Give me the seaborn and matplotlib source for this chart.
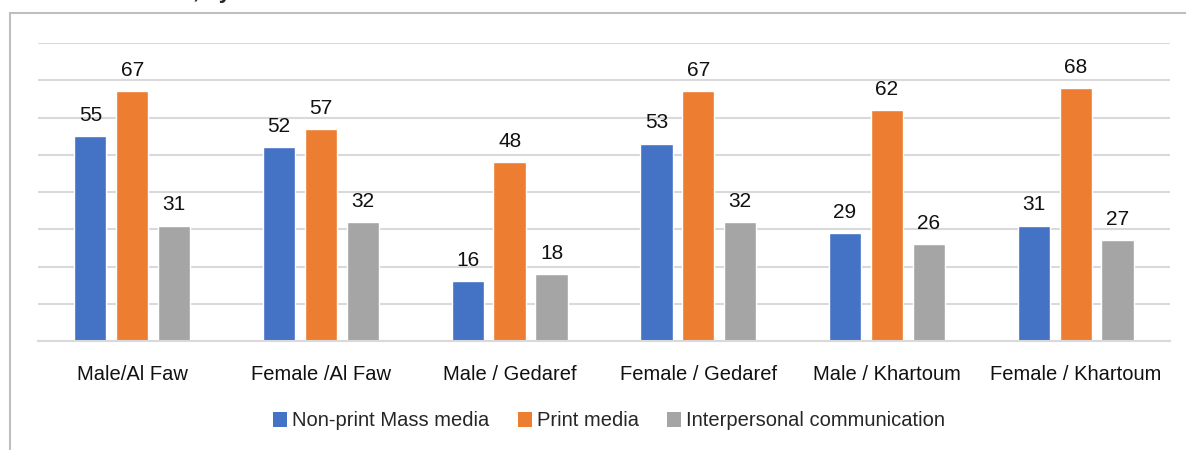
import matplotlib
matplotlib.use("Agg")
import matplotlib.pyplot as plt
import seaborn as sns
import pandas as pd
from matplotlib.lines import Line2D
from matplotlib.patches import Patch

groups = ["Male/Al Faw", "Female /Al Faw", "Male / Gedaref",
          "Female / Gedaref", "Male / Khartoum", "Female / Khartoum"]
series = ["Non-print Mass media", "Print media", "Interpersonal communication"]
non_print = [55, 52, 16, 53, 29, 31]
print_media = [67, 57, 48, 67, 62, 68]
interpersonal = [31, 32, 18, 32, 26, 27]
colors = ["#4472C4", "#ED7D31", "#A5A5A5"]

df = pd.DataFrame({
    "group": groups * 3,
    "source": [series[0]] * 6 + [series[1]] * 6 + [series[2]] * 6,
    "value": non_print + print_media + interpersonal,
})

sns.set_theme(style="white")
plt.rcParams['font.family'] = ['Liberation Sans Narrow', 'Liberation Sans', 'DejaVu Sans']

fig = plt.figure(figsize=(11.86, 4.5), dpi=100)
ax = fig.add_axes([0.032, 0.2422, 0.9545, 0.6622])

sns.barplot(data=df, x="group", y="value", hue="source", order=groups,
            hue_order=series, palette=colors, width=0.667, gap=0.23,
            saturation=1, legend=False, ax=ax)

for c in ax.containers:
    ax.bar_label(c, fmt="%d", padding=8, fontsize=15, color="#111111")

ax.set_ylim(0, 80)
ax.set_yticks(range(0, 81, 10))
ax.yaxis.grid(True, color="#D9D9D9", linewidth=1.5)
ax.set_axisbelow(True)
ax.tick_params(axis="y", left=False, labelleft=False)
ax.tick_params(axis="x", bottom=False, labelsize=14.5, pad=11, colors="#111111")
ax.set_xlabel("")
ax.set_ylabel("")
for s in ["top", "right", "left"]:
    ax.spines[s].set_visible(False)
ax.spines["bottom"].set_color("#D9D9D9")
ax.spines["bottom"].set_linewidth(1.5)

handles = [Patch(facecolor=col, edgecolor="none") for col in colors]
fig.legend(handles, series, loc="center", bbox_to_anchor=(609 / 1186, 1 - 421 / 450),
           ncol=3, frameon=False, fontsize=14.5, handlelength=0.7, handleheight=0.7,
           handletextpad=0.25, columnspacing=1.4)

# outer chart frame (left and top edges visible)
fig.add_artist(Line2D([10 / 1186, 10 / 1186], [0, 1 - 13 / 450], transform=fig.transFigure,
                      color="#BFBFBF", linewidth=1.5))
fig.add_artist(Line2D([10 / 1186, 1], [1 - 13 / 450, 1 - 13 / 450], transform=fig.transFigure,
                      color="#BFBFBF", linewidth=1.5))

# clipped title fragment from the page above (only descenders show)
fig.text(193 / 1186, 1 + 1.5 / 450, ", by", fontsize=16, fontweight="bold",
         va="baseline", ha="left")

fig.savefig("out.png", dpi=100)
